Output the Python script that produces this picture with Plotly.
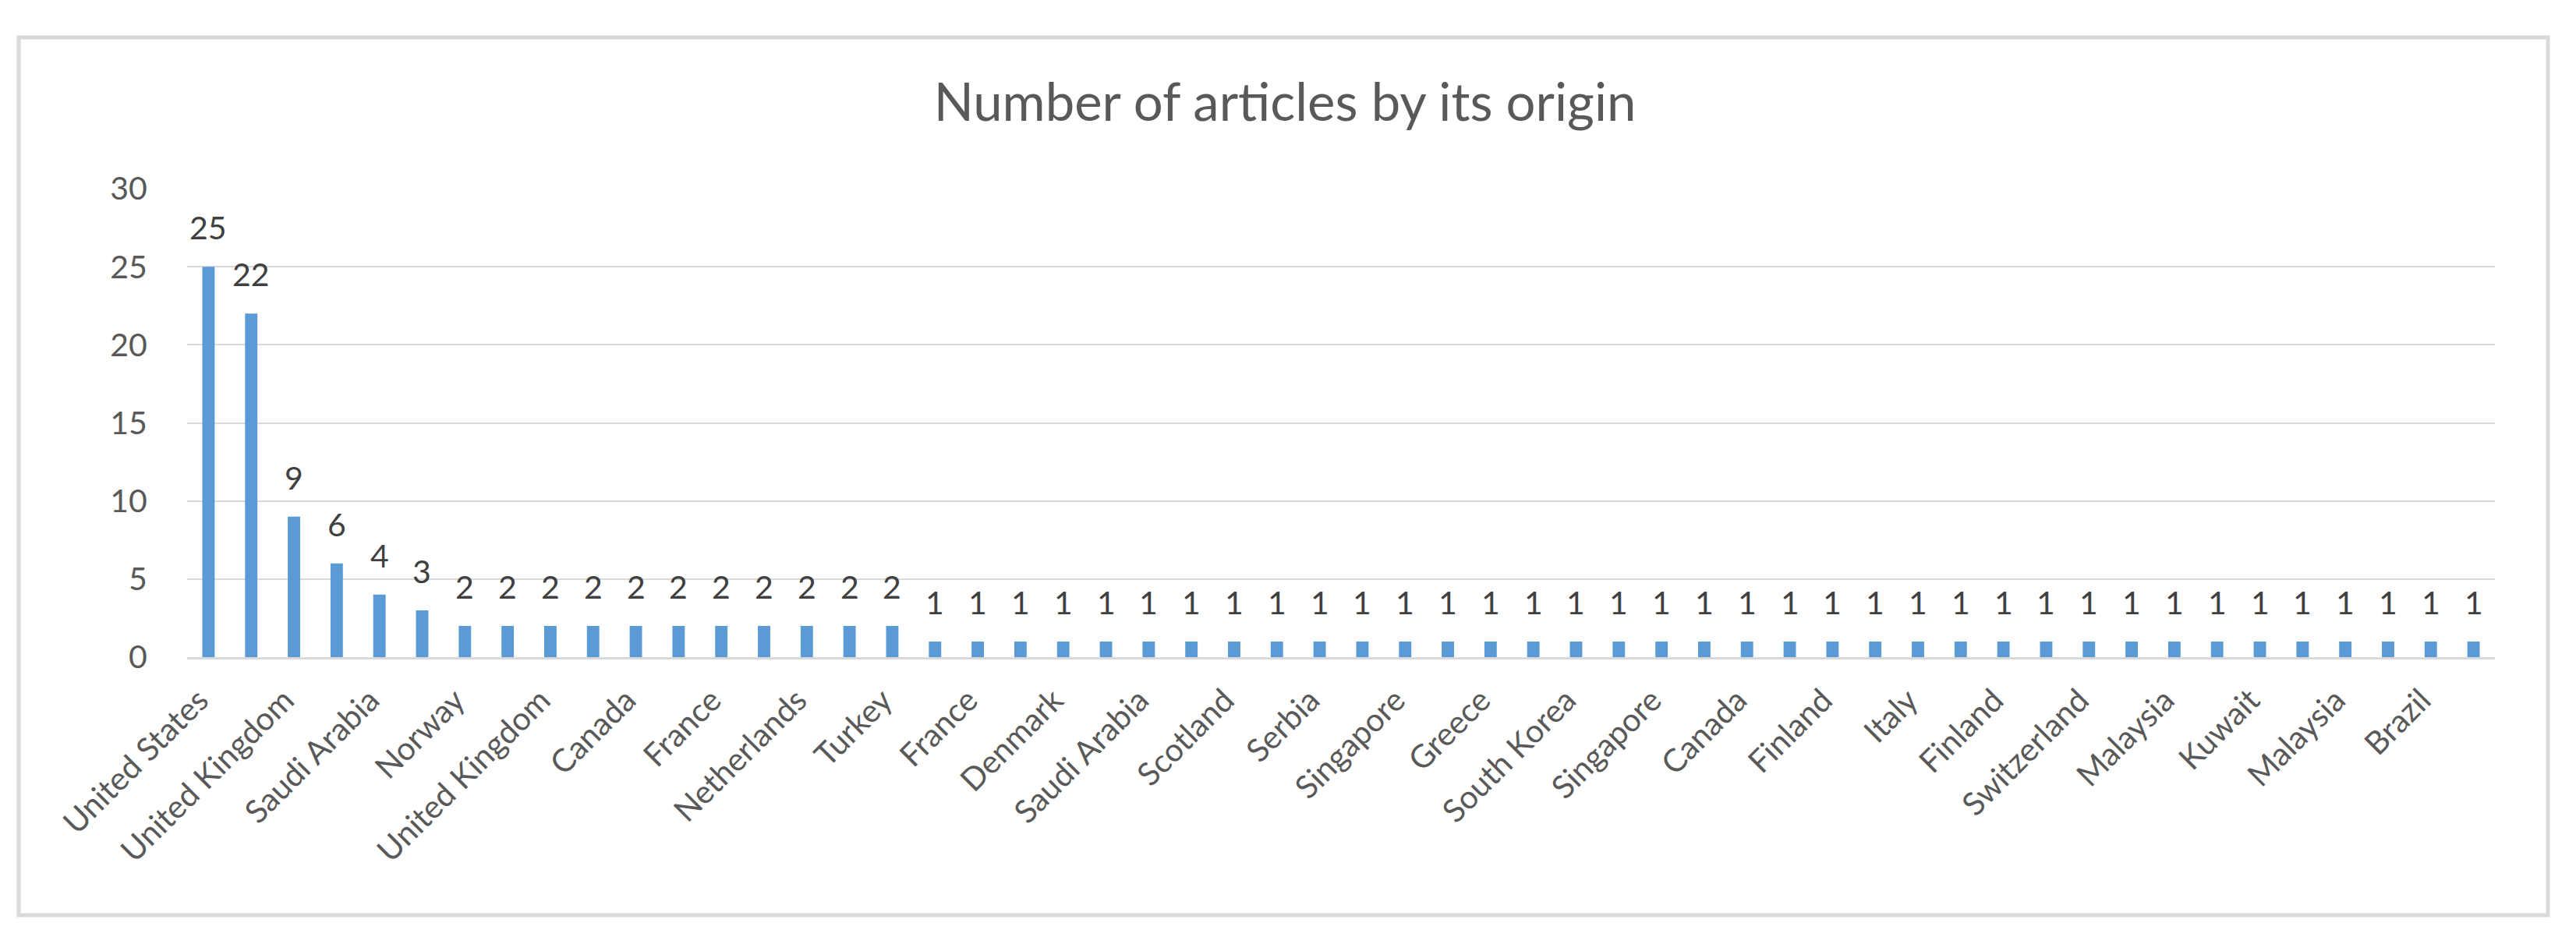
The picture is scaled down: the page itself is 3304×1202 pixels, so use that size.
import plotly.graph_objects as go

# Values for all 54 bars (left to right)
values = [25, 22, 9, 6, 4, 3,
          2, 2, 2, 2, 2, 2, 2, 2, 2, 2, 2,
          1, 1, 1, 1, 1, 1, 1, 1, 1, 1, 1, 1, 1, 1, 1, 1, 1, 1, 1, 1, 1, 1, 1,
          1, 1, 1, 1, 1, 1, 1, 1, 1, 1, 1, 1, 1, 1]

# Category labels that are visible on the axis (every other bar)
shown_labels = ["United States", "United Kingdom", "Saudi Arabia", "Norway",
                "United Kingdom", "Canada", "France", "Netherlands", "Turkey",
                "France", "Denmark", "Saudi Arabia", "Scotland", "Serbia",
                "Singapore", "Greece", "South Korea", "Singapore", "Canada",
                "Finland", "Italy", "Finland", "Switzerland", "Malaysia",
                "Kuwait", "Malaysia", "Brazil"]

title_text = "Number of articles by its origin"
y_ticks = [0, 5, 10, 15, 20, 25, 30]

x = list(range(len(values)))
tick_positions = x[::2]

FONT = "Lato"
TXT = "#595959"
GRID = "#d9d9d9"
FS = 41

W, H = 3304, 1202
L, R, T, B = 232, 3192, 234, 835

fig = go.Figure()
fig.add_trace(go.Bar(x=x, y=values, marker=dict(color="#5b9bd5", line=dict(width=0)),
                     width=0.29, hoverinfo="skip"))

for xi, v in zip(x, values):
    fig.add_annotation(x=xi, y=v, text=str(v), showarrow=False, yanchor="bottom",
                       yshift=24, font=dict(family=FONT, size=FS, color="#404040"))

pw = R - L
ph = B - T
fig.add_shape(type="rect", xref="paper", yref="paper",
              x0=(16 - L) / pw, x1=(3260 - L) / pw,
              y0=(B - 1166) / ph, y1=(B - 40) / ph,
              line=dict(color=GRID, width=5), fillcolor="rgba(0,0,0,0)", layer="below")

fig.update_layout(
    width=W, height=H,
    margin=dict(l=L, r=W - R, t=T, b=H - B, pad=0),
    paper_bgcolor="white", plot_bgcolor="white",
    showlegend=False,
    title=dict(text=title_text, x=1640 / W, xanchor="center",
               y=1 - 124 / H, yanchor="middle", yref="container",
               font=dict(family=FONT, size=67, color=TXT)),
    xaxis=dict(range=[-0.5, len(values) - 0.5], tickmode="array",
               tickvals=tick_positions, ticktext=shown_labels, tickangle=-45,
               showgrid=False, zeroline=False, showline=True, linecolor=GRID, linewidth=3,
               ticks="outside", ticklen=12, tickcolor="rgba(0,0,0,0)",
               ticklabelshift=-12,
               tickfont=dict(family=FONT, size=FS, color=TXT)),
    yaxis=dict(range=[0, 30], tickmode="array", tickvals=y_ticks,
               showgrid=True, gridcolor=GRID, gridwidth=2, zeroline=False, showline=False,
               ticks="outside", ticklen=42, tickcolor="rgba(0,0,0,0)",
               tickfont=dict(family=FONT, size=FS, color=TXT)),
)

fig.write_html("out.html")
